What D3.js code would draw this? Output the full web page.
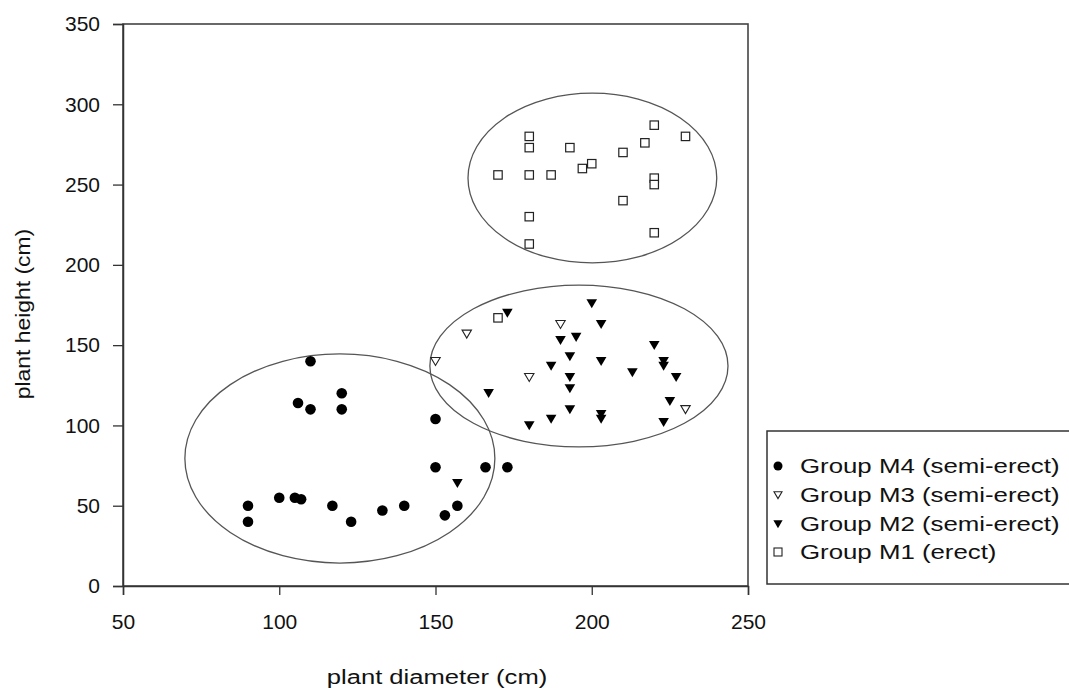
<!DOCTYPE html>
<html><head><meta charset="utf-8">
<script src="https://cdn.jsdelivr.net/npm/d3@7"></script>
<style>body{margin:0;background:#fff}svg{display:block}text{font-family:"Liberation Sans",Arial,sans-serif;fill:#111}</style>
</head><body>
<svg id="c" width="1069" height="688"></svg>
<script>
const m4 = [[110,140],[106,114],[110,110],[120,120],[120,110],[150,104],[150,74],[166,74],[173,74],[157,50],[153,44],[140,50],[133,47],[123,40],[117,50],[107,54],[105,55],[100,55],[90,50],[90,40]];
const m3 = [[150,140],[160,157],[190,163],[180,130],[230,110]];
const m2 = [[173,170],[200,176],[203,163],[190,153],[195,155],[193,143],[203,140],[187,137],[213,133],[193,130],[193,123],[220,150],[223,140],[223,137],[227,130],[225,115],[223,102],[167,120],[193,110],[187,104],[180,100],[203,107],[203,104],[157,64]];
const m1 = [[180,280],[180,273],[170,256],[180,256],[187,256],[193,273],[197,260],[200,263],[210,270],[217,276],[220,287],[230,280],[220,254],[220,250],[210,240],[180,230],[180,213],[220,220],[170,167]];
const ellipses = [[119.4,79.4,49.6,65.1],[195.9,137,47.7,50.4],[200.2,254.1,39.8,52.9]]; // cx, cy, rx, ry in data units
const xTicks = [50,100,150,200,250];
const yTicks = [0,50,100,150,200,250,300,350];
const legendLabels = ["Group M4 (semi-erect)","Group M3 (semi-erect)","Group M2 (semi-erect)","Group M1 (erect)"];

const svg = d3.select("#c");
const L=123, R=748, T=24, B=586;
const x = d3.scaleLinear().domain([50,250]).range([L,R]);
const y = d3.scaleLinear().domain([0,350]).range([B,T]);

// ellipses
svg.append("g").selectAll("ellipse").data(ellipses).join("ellipse")
  .attr("cx",d=>x(d[0])).attr("cy",d=>y(d[1]))
  .attr("rx",d=>x(d[0]+d[2])-x(d[0])).attr("ry",d=>y(d[1])-y(d[1]+d[3]))
  .attr("fill","none").attr("stroke","#555").attr("stroke-width",1.3);

// frame
svg.append("rect").attr("x",L).attr("y",T).attr("width",R-L).attr("height",B-T)
  .attr("fill","none").attr("stroke","#444").attr("stroke-width",1.6);

// axes
const xa = svg.append("g").attr("transform",`translate(0,${B})`)
  .call(d3.axisBottom(x).tickValues(xTicks).tickSize(9).tickPadding(19).tickFormat(d3.format("d")));
const ya = svg.append("g").attr("transform",`translate(${L},0)`)
  .call(d3.axisLeft(y).tickValues(yTicks).tickSize(10).tickPadding(13).tickFormat(d3.format("d")));
[xa,ya].forEach(a=>{
  a.select(".domain").attr("stroke","#333").attr("stroke-width",1.5);
  a.selectAll(".tick line").attr("stroke","#333").attr("stroke-width",1.3);
  a.selectAll("text").attr("font-size",21).attr("fill","#111").style("font-family","Liberation Sans, Arial, sans-serif");
});

svg.append("text").attr("transform","translate(437,684) scale(1.22,1)").attr("text-anchor","middle").attr("font-size",21).text("plant diameter (cm)");
svg.append("text").attr("transform","translate(30,314) rotate(-90) scale(1.09,1)").attr("text-anchor","middle").attr("font-size",21).text("plant height (cm)");

// symbols
const tri = (cx,cy,s)=>`M${cx-s},${cy-s*0.8}L${cx+s},${cy-s*0.8}L${cx},${cy+s*0.9}Z`;
svg.append("g").selectAll("circle").data(m4).join("circle")
  .attr("cx",d=>x(d[0])).attr("cy",d=>y(d[1])).attr("r",5.3).attr("fill","#000");
svg.append("g").selectAll("path").data(m2).join("path")
  .attr("d",d=>tri(x(d[0]),y(d[1]),5.3)).attr("fill","#000");
svg.append("g").selectAll("path").data(m3).join("path")
  .attr("d",d=>tri(x(d[0]),y(d[1]),4.7)).attr("fill","#fff").attr("stroke","#222").attr("stroke-width",1.1);
svg.append("g").selectAll("rect").data(m1).join("rect")
  .attr("x",d=>x(d[0])-4.2).attr("y",d=>y(d[1])-4.2).attr("width",8.4).attr("height",8.4)
  .attr("fill","#fff").attr("stroke","#222").attr("stroke-width",1.2);

// legend
const lg = svg.append("g");
lg.append("rect").attr("x",767).attr("y",431).attr("width",320).attr("height",153)
  .attr("fill","#fff").attr("stroke","#333").attr("stroke-width",1.5);
const ly = [466,495,524,552];
legendLabels.forEach((t,i)=>{
  const cy=ly[i], cx=778;
  if(i===0) lg.append("circle").attr("cx",cx).attr("cy",cy).attr("r",4.5).attr("fill","#000");
  if(i===1) lg.append("path").attr("d",tri(cx,cy,4)).attr("fill","#fff").attr("stroke","#222").attr("stroke-width",1.1);
  if(i===2) lg.append("path").attr("d",tri(cx,cy,4.6)).attr("fill","#000");
  if(i===3) lg.append("rect").attr("x",cx-4).attr("y",cy-4).attr("width",8).attr("height",8).attr("fill","#fff").attr("stroke","#222").attr("stroke-width",1.1);
  lg.append("text").attr("transform",`translate(800,${cy}) scale(1.23,1)`).attr("dy","0.35em").attr("font-size",21).text(t);
});
</script>
</body></html>
